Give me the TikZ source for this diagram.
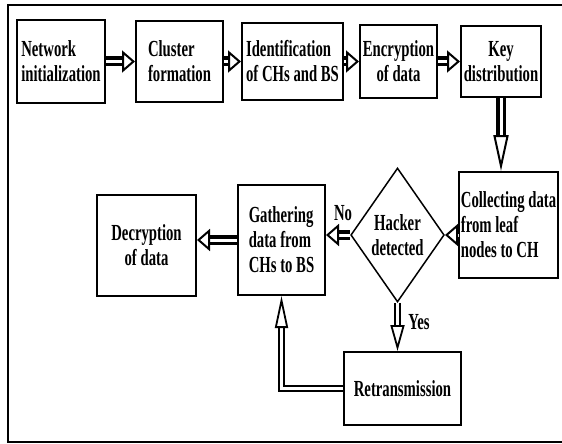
\documentclass[tikz,border=0pt]{standalone}
\usepackage{fontspec}
\newfontfamily\diagfont[FakeStretch=0.64]{Liberation Serif}
\usetikzlibrary{positioning, arrows.meta, shapes.geometric}
\tikzset{
  stepbox/.style={draw, line width=2pt, inner sep=2pt, align=left,
    font=\diagfont\bfseries\fontsize{23}{25}\selectfont},
  decision/.style={diamond, draw, line width=1.5pt, inner sep=0pt, align=center,
    font=\diagfont\bfseries\fontsize{23}{25}\selectfont},
  lbl/.style={font=\diagfont\bfseries\fontsize{23}{25}\selectfont},
  flow/.style={double, double distance=3pt, line width=3.5pt,
    -{Triangle[open, length=13pt, width=22pt, line width=2pt]}},
  vflow/.style={double, double distance=3pt, line width=2pt,
    -{Triangle[open, length=26pt, width=14pt, line width=1.8pt]}},
}
\begin{document}
\begin{tikzpicture}[x=1pt, y=-1pt]
    \useasboundingbox (0,0) rectangle (562,444);
    \draw[line width=2.5pt] (8,5) rectangle (572,442);
    % top row
    \node[stepbox, minimum width=88pt, minimum height=83pt] (net) at (61,61.5) {Network\\initialization};
    \node[stepbox, minimum width=87pt, minimum height=81pt, right=29pt of net] (clus) {Cluster\\formation};
    \node[stepbox, minimum width=101pt, minimum height=76pt, right=17pt of clus] (iden) {Identification\\of CHs and BS};
    \node[stepbox, align=center, minimum width=77pt, minimum height=73pt, right=15pt of iden] (encr) {Encryption\\of data};
    \node[stepbox, align=center, minimum width=80pt, minimum height=71pt, right=22pt of encr] (key) {Key\\distribution};
    % lower part
    \node[stepbox, minimum width=99pt, minimum height=106pt] (coll) at (508.5,225) {Collecting data\\from leaf\\nodes to CH};
    \node[decision, minimum width=89pt, minimum height=134pt] (hack) at (397.5,235) {Hacker\\detected};
    \node[stepbox, minimum width=87pt, minimum height=110pt] (gath) at (281.5,240) {Gathering\\data from\\CHs to BS};
    \node[stepbox, align=center, minimum width=99pt, minimum height=101pt] (decr) at (146.5,245.5) {Decryption\\of data};
    \node[stepbox, align=center, minimum width=117pt, minimum height=73pt] (retx) at (402.5,388.5) {Retransmission};
    \node[lbl] (no) at (343,213) {No};
    \node[lbl] (yes) at (419,322) {Yes};
    \draw[flow] (net) -- (clus);
    \draw[flow] (clus) -- (iden);
    \draw[flow] (iden) -- (encr);
    \draw[flow] (encr) -- (key);
    \draw[vflow, line width=3.5pt, -{Triangle[open, length=36pt, width=15pt, line width=2pt]}] (key) -- (key |- coll.north);
    \draw[flow] (coll.west |- hack.east) -- (hack.east);
    \draw[flow] (hack.west) -- (gath.east |- hack.west);
    \draw[flow] (gath.west) -- (decr.east |- gath.west);
    \draw[vflow] (hack.south) -- (hack.south |- retx.north);
    \draw[vflow, -{Triangle[open, length=32pt, width=13pt, line width=1.8pt]}] (retx.west) -| (gath.south);
  \end{tikzpicture}
\end{document}
